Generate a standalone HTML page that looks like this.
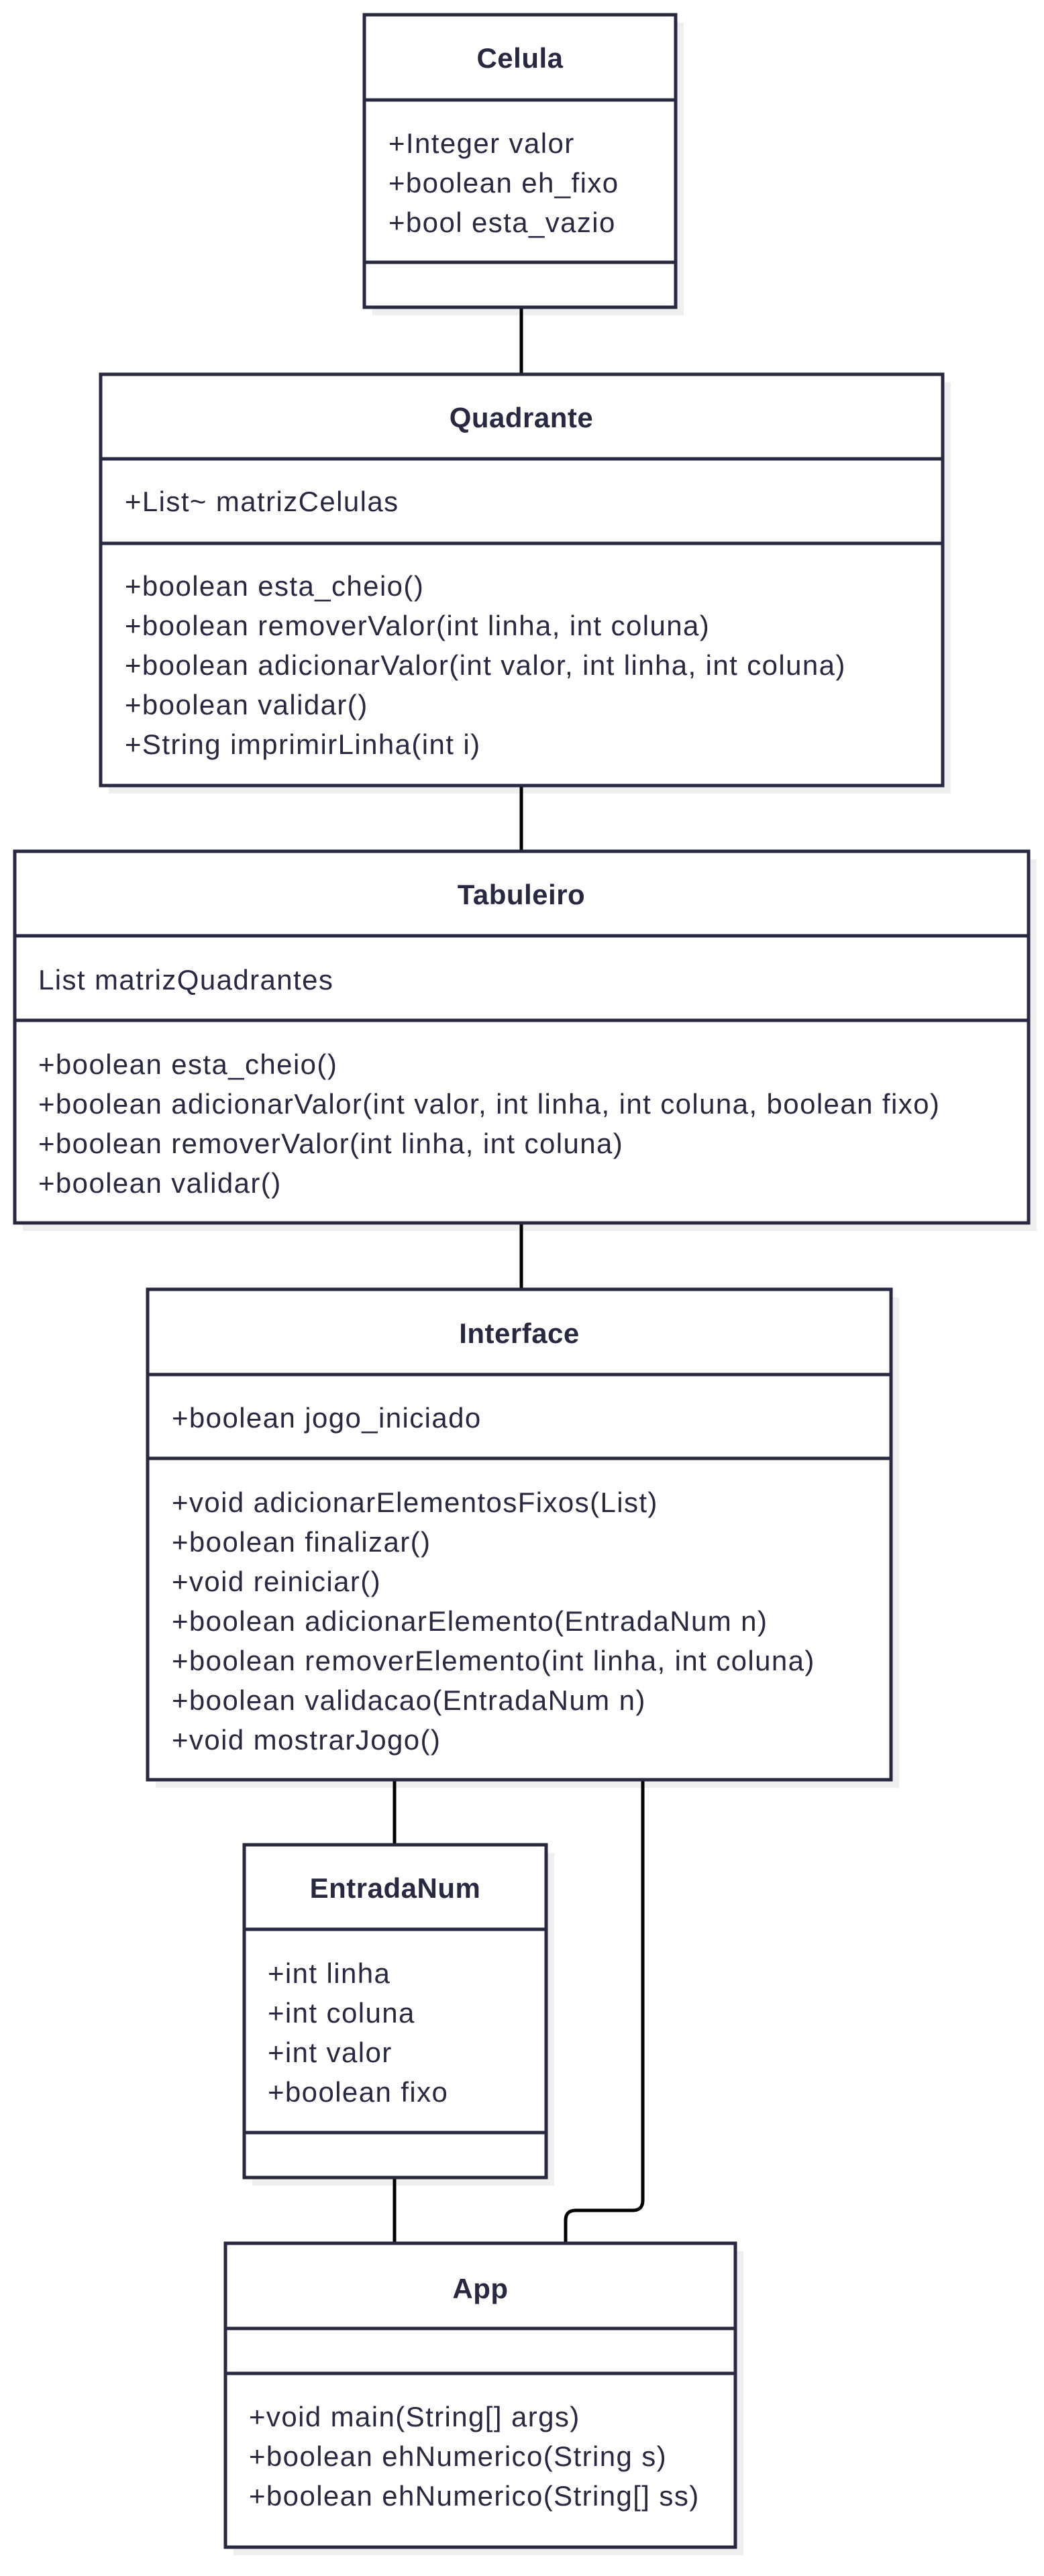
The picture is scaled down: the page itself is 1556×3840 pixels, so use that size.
<!DOCTYPE html>
<html><head><meta charset="utf-8"><style>
html,body{margin:0;padding:0;background:#fff;}
svg{display:block;}
text{font-family:"Liberation Sans",sans-serif;font-size:42px;letter-spacing:1.4px;fill:#282840;}
.t{font-weight:bold;text-anchor:middle;letter-spacing:0.5px;}
.b{fill:#fff;stroke:#282840;stroke-width:5;}
.s{fill:#efefef;}
.d{stroke:#282840;stroke-width:5;}
.c{stroke:#000;stroke-width:5;fill:none;}
</style></head><body>
<svg width="1556" height="3840" viewBox="0 0 1556 3840" xmlns="http://www.w3.org/2000/svg">
<!-- shadows -->
<rect class="s" x="555" y="34" width="464" height="436"/>
<rect class="s" x="162" y="570" width="1255" height="613"/>
<rect class="s" x="34" y="1281" width="1511" height="554"/>
<rect class="s" x="232" y="1934" width="1108" height="731"/>
<rect class="s" x="376" y="2762" width="450" height="496"/>
<rect class="s" x="348" y="3356" width="760" height="453"/>
<!-- connectors -->
<line class="c" x1="777" y1="458" x2="777" y2="558"/>
<line class="c" x1="777" y1="1171" x2="777" y2="1269"/>
<line class="c" x1="777" y1="1823" x2="777" y2="1922"/>
<line class="c" x1="588" y1="2653" x2="588" y2="2750"/>
<line class="c" x1="588" y1="3246" x2="588" y2="3344"/>
<path class="c" d="M958 2653 V3280 Q958 3295 943 3295 H858 Q843 3295 843 3310 V3344"/>

<!-- Celula -->
<rect class="b" x="543" y="22" width="464" height="436"/>
<line class="d" x1="543" y1="149" x2="1007" y2="149"/>
<line class="d" x1="543" y1="391" x2="1007" y2="391"/>
<text class="t" x="775" y="101">Celula</text>
<text x="579" y="228">+Integer valor</text>
<text x="579" y="287">+boolean eh_fixo</text>
<text x="579" y="346">+bool esta_vazio</text>

<!-- Quadrante -->
<rect class="b" x="150" y="558" width="1255" height="613"/>
<line class="d" x1="150" y1="684" x2="1405" y2="684"/>
<line class="d" x1="150" y1="810" x2="1405" y2="810"/>
<text class="t" x="777" y="637">Quadrante</text>
<text x="186" y="762">+List~ matrizCelulas</text>
<text x="186" y="888">+boolean esta_cheio()</text>
<text x="186" y="947">+boolean removerValor(int linha, int coluna)</text>
<text x="186" y="1006">+boolean adicionarValor(int valor, int linha, int coluna)</text>
<text x="186" y="1065">+boolean validar()</text>
<text x="186" y="1124">+String imprimirLinha(int i)</text>

<!-- Tabuleiro -->
<rect class="b" x="22" y="1269" width="1511" height="554"/>
<line class="d" x1="22" y1="1395" x2="1533" y2="1395"/>
<line class="d" x1="22" y1="1521" x2="1533" y2="1521"/>
<text class="t" x="777" y="1348">Tabuleiro</text>
<text x="57" y="1475">List matrizQuadrantes</text>
<text x="57" y="1601">+boolean esta_cheio()</text>
<text x="57" y="1660">+boolean adicionarValor(int valor, int linha, int coluna, boolean fixo)</text>
<text x="57" y="1719">+boolean removerValor(int linha, int coluna)</text>
<text x="57" y="1778">+boolean validar()</text>

<!-- Interface -->
<rect class="b" x="220" y="1922" width="1108" height="731"/>
<line class="d" x1="220" y1="2049" x2="1328" y2="2049"/>
<line class="d" x1="220" y1="2174" x2="1328" y2="2174"/>
<text class="t" x="774" y="2002">Interface</text>
<text x="256" y="2128">+boolean jogo_iniciado</text>
<text x="256" y="2254">+void adicionarElementosFixos(List)</text>
<text x="256" y="2313">+boolean finalizar()</text>
<text x="256" y="2372">+void reiniciar()</text>
<text x="256" y="2431">+boolean adicionarElemento(EntradaNum n)</text>
<text x="256" y="2490">+boolean removerElemento(int linha, int coluna)</text>
<text x="256" y="2549">+boolean validacao(EntradaNum n)</text>
<text x="256" y="2608">+void mostrarJogo()</text>

<!-- EntradaNum -->
<rect class="b" x="364" y="2750" width="450" height="496"/>
<line class="d" x1="364" y1="2876" x2="814" y2="2876"/>
<line class="d" x1="364" y1="3179" x2="814" y2="3179"/>
<text class="t" x="589" y="2829">EntradaNum</text>
<text x="399" y="2956">+int linha</text>
<text x="399" y="3015">+int coluna</text>
<text x="399" y="3074">+int valor</text>
<text x="399" y="3133">+boolean fixo</text>

<!-- App -->
<rect class="b" x="336" y="3344" width="760" height="453"/>
<line class="d" x1="336" y1="3471" x2="1096" y2="3471"/>
<line class="d" x1="336" y1="3538" x2="1096" y2="3538"/>
<text class="t" x="716" y="3426">App</text>
<text x="371" y="3617">+void main(String[] args)</text>
<text x="371" y="3676">+boolean ehNumerico(String s)</text>
<text x="371" y="3735">+boolean ehNumerico(String[] ss)</text>
</svg>
</body></html>
